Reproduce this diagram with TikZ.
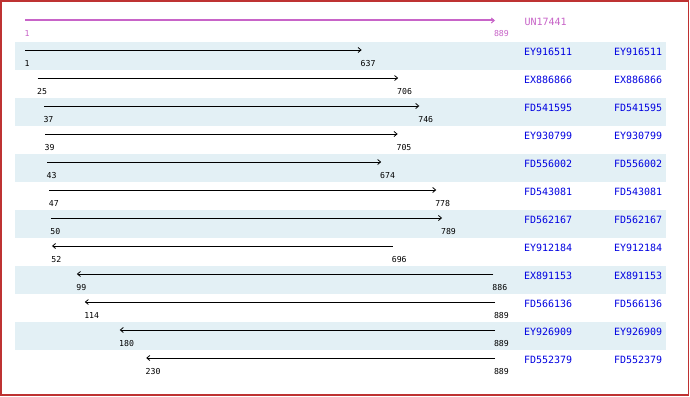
\documentclass[tikz,border=0pt]{standalone}
\usepackage{fontspec}
\newfontfamily\monof{DejaVu Sans Mono}
\usetikzlibrary{arrows.meta}
\definecolor{band}{RGB}{227,240,245}
\definecolor{idblue}{RGB}{0,0,225}
\definecolor{mag}{RGB}{200,100,200}
\definecolor{frame}{RGB}{190,50,50}
\tikzset{
  every node/.style={inner sep=0pt, outer sep=0pt},
  num/.style={anchor=west, font=\monof\fontsize{8.2}{9}\selectfont, text=black},
  magnum/.style={num, text=mag},
  idlab/.style={anchor=west, font=\monof\fontsize{10}{11}\selectfont, text=idblue},
  seqline/.style={draw=black, line width=0.9pt, -{Straight Barb[length=3pt,width=5pt,line width=0.8pt]}},
  refline/.style={draw=mag, line width=2pt, -{Straight Barb[length=3pt,width=5pt,line width=1pt]}},
  bandbox/.style={fill=band, draw=none}
}
\begin{document}
\begin{tikzpicture}[x=1pt,y=-1pt]
\useasboundingbox (0,0) rectangle (690,396);
\fill[white] (0,0) rectangle (690,396);
\draw[frame, line width=1.6pt] (0.8,0.8) rectangle (688.4,394.8);
% bands
\foreach \i in {1,3,5,7,9,11} {
  \fill[band] (15,{42+28*(\i-1)}) rectangle (666,{70+28*(\i-1)});
}
% reference
\coordinate (r0) at (25,20.5);
\coordinate (r1) at (495,20.5);
\draw[refline] (r0) -- (r1);
\node[magnum] (rs) at (24.5,34) {1};
\node[magnum] (re) at (494,34) {889};
\node[anchor=west, font=\monof\fontsize{10}{11}\selectfont, text=mag] (rid) at (524.5,22) {UN17441};
% rows: index/start/end/id/direction(1 fwd, 0 rev)
\foreach \i/\s/\e/\id/\d in {
  1/1/637/EY916511/1,
  2/25/706/EX886866/1,
  3/37/746/FD541595/1,
  4/39/705/EY930799/1,
  5/43/674/FD556002/1,
  6/47/778/FD543081/1,
  7/50/789/FD562167/1,
  8/52/696/EY912184/0,
  9/99/886/EX891153/0,
  10/114/889/FD566136/0,
  11/180/889/EY926909/0,
  12/230/889/FD552379/0} {
  \pgfmathsetmacro{\ty}{42+28*(\i-1)}
  \pgfmathsetmacro{\xs}{25+(\s-1)*0.529279}
  \pgfmathsetmacro{\xe}{25+(\e-1)*0.529279}
  \coordinate (a\i) at (\xs,\ty+8);
  \coordinate (b\i) at (\xe,\ty+8);
  \ifnum\d=1
    \draw[seqline] (a\i) -- (b\i);
  \else
    \draw[seqline] (b\i) -- (a\i);
  \fi
  \node[num] (ls\i) at (\xs-0.5,\ty+22) {\s};
  \node[num] (le\i) at (\xe-1,\ty+22) {\e};
  \node[idlab] (ida\i) at (524,\ty+10) {\id};
  \node[idlab] (idb\i) at (614,\ty+10) {\id};
}
\end{tikzpicture}
\end{document}
